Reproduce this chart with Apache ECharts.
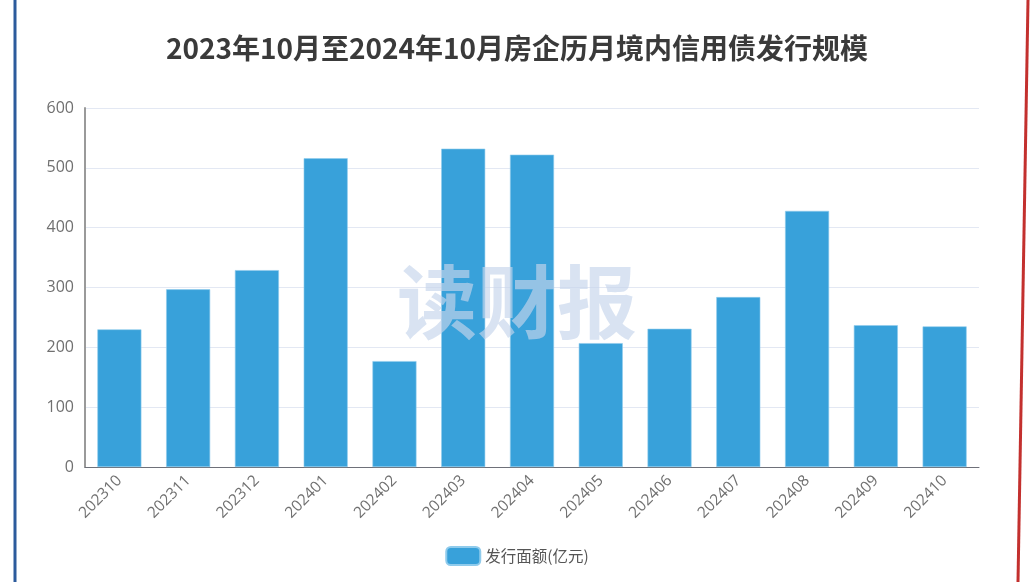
<!DOCTYPE html>
<html><head><meta charset="utf-8">
<script src="https://cdn.jsdelivr.net/npm/echarts@6/dist/echarts.min.js"></script>
<style>html,body{margin:0;padding:0;background:#fff}#c{width:1034px;height:582px}</style>
</head><body><div id="c"></div>
<script>
const titleText = '2023年10月至2024年10月房企历月境内信用债发行规模';
const categories = ['202310','202311','202312','202401','202402','202403','202404','202405','202406','202407','202408','202409','202410'];
const seriesName = '发行面额(亿元)';
const values = [230, 297, 329, 516, 177, 532, 522, 207, 231, 284, 428, 237, 235];
const yTicks = [0, 100, 200, 300, 400, 500, 600];

const chart = echarts.init(document.getElementById('c'));
chart.setOption({
  animation: false,
  backgroundColor: '#fff',
  title: {
    text: titleText, left: 'center', top: 29,
    textStyle: { fontFamily: 'Noto Sans CJK SC', fontWeight: 'bold', fontSize: 28, color: '#3a3a3a' }
  },
  grid: { left: 85, right: 55, top: 108, bottom: 115 },
  legend: {
    bottom: 11, left: 'center', itemWidth: 34, itemHeight: 18, itemGap: 8,
    textStyle: { fontFamily: 'Noto Sans CJK SC', fontSize: 15.5, color: '#555' },
    data: [seriesName]
  },
  xAxis: {
    type: 'category', data: categories,
    axisLine: { lineStyle: { color: '#6e7079' } },
    axisTick: { lineStyle: { color: '#6e7079' } },
    axisLabel: { rotate: 45, fontSize: 15.5, color: '#707070', fontFamily: 'Open Sans', margin: 11 }
  },
  yAxis: {
    type: 'value', min: yTicks[0], max: yTicks[yTicks.length-1], interval: 100,
    axisLine: { show: true, lineStyle: { color: '#9a9a9a', width: 2 } },
    axisLabel: { fontSize: 16, color: '#707070', fontFamily: 'Open Sans', margin: 11 },
    splitLine: { lineStyle: { color: '#e3e8f3' } }
  },
  series: [{
    name: seriesName, type: 'bar', data: values, barWidth: '64%',
    itemStyle: { color: '#38a1da', borderColor: '#8fcbec', borderWidth: 0.6 }
  }],
  graphic: [
    { type: 'text', left: 'center', top: 262, z: 100,
      style: { text: '读财报', fontSize: 80, fontWeight: 'bold', fontFamily: 'Noto Sans CJK SC',
        fill: 'rgba(198,212,236,0.66)', letterSpacing: 11 } },
    { type: 'line', shape: { x1: 15, y1: 0, x2: 15, y2: 582 }, style: { stroke: '#2c5b9c', lineWidth: 3 }, z: 100 },
    { type: 'line', shape: { x1: 1028, y1: 0, x2: 1018, y2: 582 }, style: { stroke: '#c3302e', lineWidth: 3 }, z: 100 }
  ]
});
</script></body></html>
